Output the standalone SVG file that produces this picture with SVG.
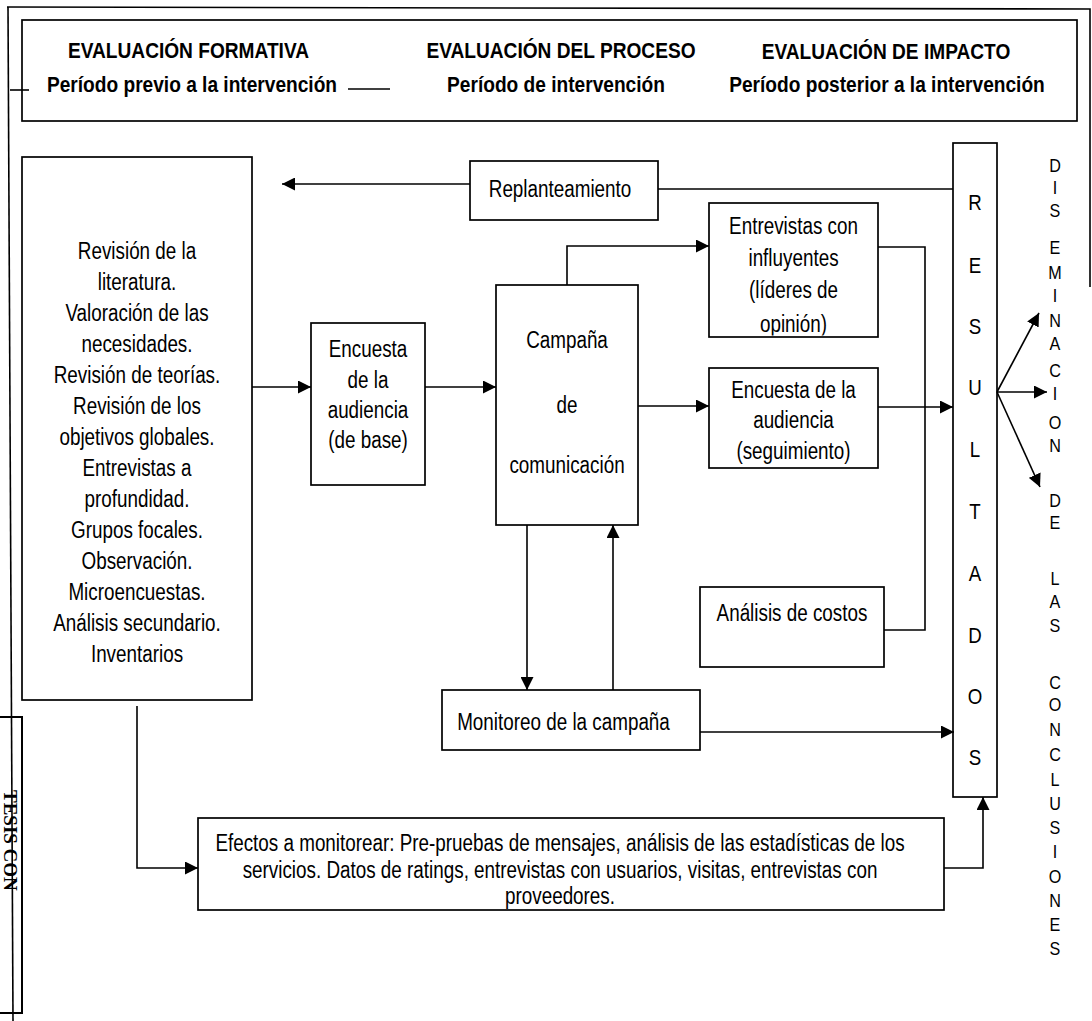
<svg xmlns="http://www.w3.org/2000/svg" width="1092" height="1021" viewBox="0 0 1092 1021">
<style>
.bx{fill:#fff;stroke:#000;stroke-width:1.7}
.ln{fill:none;stroke:#000;stroke-width:1.6}
.ar{fill:none;stroke:#000;stroke-width:1.6;marker-end:url(#ah)}
.t{font-family:"Liberation Sans",Arial,sans-serif;font-size:23px;fill:#000;text-anchor:middle}
.h{font-family:"Liberation Sans",Arial,sans-serif;font-size:22.5px;font-weight:bold;fill:#000;text-anchor:middle}
.v{font-family:"Liberation Sans",Arial,sans-serif;font-size:22px;fill:#000;text-anchor:middle}
.d{font-family:"Liberation Sans",Arial,sans-serif;font-size:19px;fill:#000;text-anchor:middle}
</style>
<defs>
<marker id="ah" markerUnits="userSpaceOnUse" markerWidth="14" markerHeight="13" refX="13" refY="6.5" orient="auto">
<path d="M0,0 L13,6.5 L0,13 z" fill="#000"/>
</marker>
<clipPath id="clipInf"><rect x="700" y="200" width="190" height="135.5"/></clipPath>
</defs>
<rect width="1092" height="1021" fill="#fff"/>

<g id="frame">
<path class="ln" d="M7,7 L1090,9 L1090,287" stroke-width="2"/>
<path class="ln" d="M8,7 L13,1021" stroke-width="2"/>
</g>

<g id="stamp">
<rect x="-2" y="717" width="24" height="296" fill="none" stroke="#000" stroke-width="2"/>
<text x="0" y="0" transform="translate(4,790) rotate(90)" font-family="Liberation Serif,serif" font-weight="bold" font-size="19" fill="#000">TESIS CON</text>
</g>

<g id="header">
<rect class="bx" x="22" y="20" width="1055" height="101"/>
<g transform="translate(188.5,0) scale(0.85,1)"><text class="h" x="0" y="58">EVALUACIÓN FORMATIVA</text></g>
<g transform="translate(192,0) scale(0.85,1)"><text class="h" x="0" y="92">Período previo a la intervención</text></g>
<g transform="translate(561,0) scale(0.85,1)"><text class="h" x="0" y="58">EVALUACIÓN DEL PROCESO</text></g>
<g transform="translate(556,0) scale(0.85,1)"><text class="h" x="0" y="92">Período de intervención</text></g>
<g transform="translate(886,0) scale(0.85,1)"><text class="h" x="0" y="59">EVALUACIÓN DE IMPACTO</text></g>
<g transform="translate(887,0) scale(0.85,1)"><text class="h" x="0" y="92">Período posterior a la intervención</text></g>
<path class="ln" d="M10,90 L29,90" stroke-width="2"/>
<path class="ln" d="M348,89 L390,89" stroke-width="3"/>
</g>

<g id="n-formativa">
<rect class="bx" x="22" y="157" width="230" height="543"/>
<g transform="translate(137,0) scale(0.82,1)">
<text class="t" x="0" y="259">Revisión de la</text>
<text class="t" x="0" y="290">literatura.</text>
<text class="t" x="0" y="321">Valoración de las</text>
<text class="t" x="0" y="352">necesidades.</text>
<text class="t" x="0" y="383">Revisión de teorías.</text>
<text class="t" x="0" y="414">Revisión de los</text>
<text class="t" x="0" y="445">objetivos globales.</text>
<text class="t" x="0" y="476">Entrevistas a</text>
<text class="t" x="0" y="507">profundidad.</text>
<text class="t" x="0" y="538">Grupos focales.</text>
<text class="t" x="0" y="569">Observación.</text>
<text class="t" x="0" y="600">Microencuestas.</text>
<text class="t" x="0" y="631">Análisis secundario.</text>
<text class="t" x="0" y="662">Inventarios</text>
</g>
</g>

<g id="n-replanteamiento">
<rect class="bx" x="470" y="161" width="188" height="59"/>
<g transform="translate(560,0) scale(0.82,1)">
<text class="t" x="0" y="197">Replanteamiento</text>
</g>
</g>

<g id="n-encuesta-base">
<rect class="bx" x="311" y="323" width="114" height="162"/>
<g transform="translate(368,0) scale(0.82,1)">
<text class="t" x="0" y="357">Encuesta</text>
<text class="t" x="0" y="388">de la</text>
<text class="t" x="0" y="418">audiencia</text>
<text class="t" x="0" y="448">(de base)</text>
</g>
</g>

<g id="n-campana">
<rect class="bx" x="496" y="285" width="142" height="240"/>
<g transform="translate(567,0) scale(0.82,1)">
<text class="t" x="0" y="348">Campaña</text>
<text class="t" x="0" y="413">de</text>
<text class="t" x="0" y="473">comunicación</text>
</g>
</g>

<g id="n-entrevistas">
<rect class="bx" x="709" y="203" width="169" height="134"/>
<g clip-path="url(#clipInf)">
<g transform="translate(793.5,0) scale(0.82,1)">
<text class="t" x="0" y="234">Entrevistas con</text>
<text class="t" x="0" y="266">influyentes</text>
<text class="t" x="0" y="298">(líderes de</text>
<text class="t" x="0" y="332">opinión)</text>
</g>
</g>
</g>

<g id="n-encuesta-seg">
<rect class="bx" x="709" y="368" width="169" height="100"/>
<g transform="translate(793.5,0) scale(0.82,1)">
<text class="t" x="0" y="398">Encuesta de la</text>
<text class="t" x="0" y="428">audiencia</text>
<text class="t" x="0" y="459">(seguimiento)</text>
</g>
</g>

<g id="n-costos">
<rect class="bx" x="700" y="587" width="184" height="80"/>
<g transform="translate(792,0) scale(0.82,1)">
<text class="t" x="0" y="621">Análisis de costos</text>
</g>
</g>

<g id="n-monitoreo">
<rect class="bx" x="442" y="690" width="258" height="60"/>
<g transform="translate(563.5,0) scale(0.82,1)">
<text class="t" x="0" y="730">Monitoreo de la campaña</text>
</g>
</g>

<g id="n-efectos">
<rect class="bx" x="198" y="818" width="746" height="92"/>
<g transform="translate(560,0) scale(0.82,1)">
<text class="t" x="0" y="851">Efectos a monitorear: Pre-pruebas de mensajes, análisis de las estadísticas de los</text>
<text class="t" x="0" y="878">servicios. Datos de ratings, entrevistas con usuarios, visitas, entrevistas con</text>
<text class="t" x="0" y="904">proveedores.</text>
</g>
</g>

<g id="n-resultados">
<rect class="bx" x="953" y="143" width="44" height="654"/>
<g transform="translate(975,0) scale(0.85,1)">
<text class="v" x="0" y="210">R</text>
<text class="v" x="0" y="273">E</text>
<text class="v" x="0" y="334">S</text>
<text class="v" x="0" y="395">U</text>
<text class="v" x="0" y="457">L</text>
<text class="v" x="0" y="519">T</text>
<text class="v" x="0" y="581">A</text>
<text class="v" x="0" y="643">D</text>
<text class="v" x="0" y="704">O</text>
<text class="v" x="0" y="765">S</text>
</g>
</g>

<g id="n-diseminacion">
<g transform="translate(1055,0) scale(0.85,1)">
<text class="d" x="0" y="172">D</text>
<text class="d" x="0" y="194">I</text>
<text class="d" x="0" y="217">S</text>
<text class="d" x="0" y="254">E</text>
<text class="d" x="0" y="279">M</text>
<text class="d" x="0" y="302">I</text>
<text class="d" x="0" y="327">N</text>
<text class="d" x="0" y="350">A</text>
<text class="d" x="0" y="377">C</text>
<text class="d" x="0" y="400">I</text>
<text class="d" x="0" y="429">O</text>
<text class="d" x="0" y="452">N</text>
<text class="d" x="0" y="507">D</text>
<text class="d" x="0" y="529">E</text>
<text class="d" x="0" y="585">L</text>
<text class="d" x="0" y="608">A</text>
<text class="d" x="0" y="632">S</text>
<text class="d" x="0" y="689">C</text>
<text class="d" x="0" y="711">O</text>
<text class="d" x="0" y="736">N</text>
<text class="d" x="0" y="761">C</text>
<text class="d" x="0" y="786">L</text>
<text class="d" x="0" y="810">U</text>
<text class="d" x="0" y="834">S</text>
<text class="d" x="0" y="858">I</text>
<text class="d" x="0" y="883">O</text>
<text class="d" x="0" y="907">N</text>
<text class="d" x="0" y="931">E</text>
<text class="d" x="0" y="955">S</text>
</g>
</g>

<g id="connectors">
<path class="ar" d="M470,184 L282,184"/>
<path class="ln" d="M953,189 L658,189"/>
<path class="ar" d="M252,387 L311,387"/>
<path class="ar" d="M425,387 L496,387"/>
<path class="ar" d="M567,285 L567,246 L709,246"/>
<path class="ar" d="M638,406 L709,406"/>
<path class="ln" d="M878,247 L925,247 L925,630 L884,630"/>
<path class="ar" d="M878,407 L953,407"/>
<path class="ar" d="M527,525 L527,690"/>
<path class="ar" d="M613,690 L613,525"/>
<path class="ar" d="M700,732 L954,732"/>
<path class="ar" d="M137,706 L137,868 L198,868"/>
<path class="ar" d="M944,868 L983,868 L983,797"/>
<path class="ar" d="M997,392 L1039,313"/>
<path class="ar" d="M997,392 L1047,392"/>
<path class="ar" d="M997,392 L1040,487"/>
</g>
</svg>
